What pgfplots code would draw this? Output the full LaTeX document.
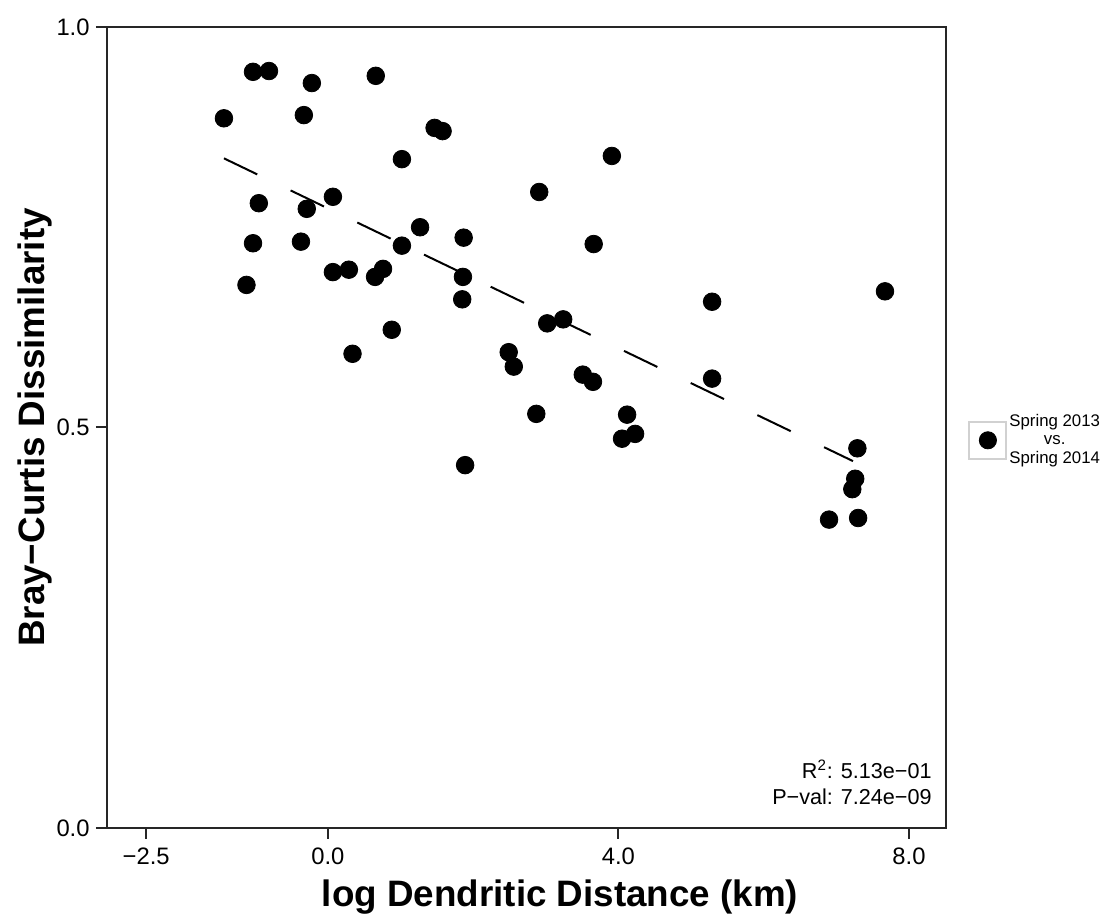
\documentclass[border=0pt]{standalone}
\usepackage{fontspec}
\setmainfont{Liberation Sans}
\usepackage{pgfplots}
\pgfplotsset{compat=1.18}

\begin{document}
\begin{tikzpicture}
\begin{axis}[
    name=ax,
    scale only axis,
    width=419.5pt,
    height=400.5pt,
    xmin=-3.04, xmax=8.51,
    ymin=0, ymax=1,
    xtick={-2.5,0,4,8},
    xticklabels={−2.5,0.0,4.0,8.0},
    ytick={0,0.5,1},
    yticklabels={0.0,0.5,1.0},
    xtick pos=bottom, ytick pos=left,
    tick align=outside,
    major tick length=5.5pt,
    axis line style={line width=1pt, black!85},
    tick style={line width=1pt, black!85},
    ticklabel style={font=\fontsize{11.9}{14}\selectfont},
    xticklabel style={anchor=base, inner sep=0pt, yshift=-13pt},
    yticklabel style={anchor=east, inner sep=0pt, xshift=-3pt},
    xlabel={log Dendritic Distance (km)},
    ylabel={Bray−Curtis Dissimilarity},
    label style={font=\fontsize{18.4}{22}\selectfont\bfseries},
    xlabel style={at={(axis description cs:0.54,-0.0986)}, anchor=base},
    ylabel style={at={(axis description cs:-0.0858,0.5)}, anchor=center},
    clip=false,
    legend style={at={(axis description cs:1,0.484)}, anchor=west, xshift=11pt,
        draw=none, fill=none, inner sep=0pt,
        font=\fontsize{8.4}{9.3}\selectfont,
        nodes={inner sep=1pt},
        cells={align=center}},
]

% pairwise dissimilarities
\addplot[only marks, mark=*, mark size=4.4pt, mark options={fill=black, draw=black},
    legend image code/.code={
        \draw[black!18, line width=1pt, fill=white] (0pt,-9.25pt) rectangle (18.5pt,9.25pt);
        \fill[black] (9.25pt,0pt) circle (4.3pt);
    }]
    coordinates {
        (-1.43,0.886) (-1.03,0.944) (-0.81,0.945) (-0.22,0.930) (-0.33,0.890)
        (0.66,0.939) (1.47,0.874) (1.58,0.870) (1.02,0.835) (3.91,0.839)
        (-0.95,0.780) (-0.29,0.773) (0.07,0.788) (2.91,0.794) (-1.03,0.730)
        (-0.37,0.732) (1.27,0.750) (1.02,0.727) (1.87,0.737) (3.66,0.729)
        (-1.12,0.678) (0.07,0.694) (0.29,0.697) (0.65,0.688) (0.76,0.698)
        (1.86,0.688) (1.85,0.660) (0.88,0.622) (0.34,0.592) (3.02,0.630)
        (3.24,0.635) (2.49,0.594) (2.56,0.576) (3.51,0.566) (3.65,0.557)
        (2.87,0.517) (4.12,0.516) (4.05,0.486) (4.23,0.492) (1.89,0.453)
        (5.29,0.657) (5.29,0.561) (7.67,0.670) (7.29,0.474) (7.26,0.436)
        (7.22,0.423) (6.90,0.385) (7.30,0.387)
    };
\addlegendentry{Spring 2013\\vs.\\Spring 2014}

% fitted line
\addplot[black, line width=1pt, dash pattern=on 18.5pt off 18.5pt, forget plot]
    coordinates {(-1.43,0.836) (7.23,0.458)};

\node[anchor=base east, inner sep=0pt, font=\fontsize{10.8}{13}\selectfont]
    at (axis description cs:1,0.0624) [xshift=-7pt] {R\textsuperscript{2}: 5.13e−01};
\node[anchor=base east, inner sep=0pt, font=\fontsize{10.8}{13}\selectfont]
    at (axis description cs:1,0.0287) [xshift=-7pt] {P−val: 7.24e−09};

\end{axis}
\pgfresetboundingbox
\path[use as bounding box] ([shift={(-53.5pt,-45pt)}]ax.south west)
    rectangle ([shift={(79pt,13.5pt)}]ax.north east);
\end{tikzpicture}
\end{document}
